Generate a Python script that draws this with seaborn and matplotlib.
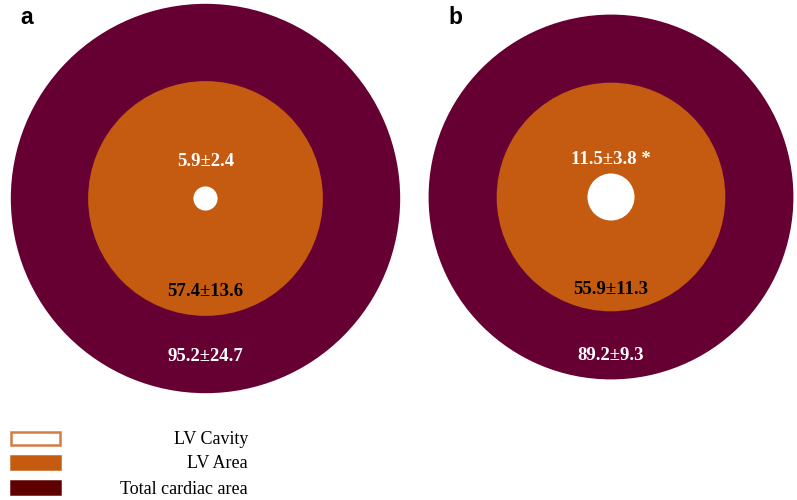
import matplotlib
matplotlib.use('Agg')
import matplotlib.pyplot as plt
from matplotlib.patches import Circle, Rectangle
import seaborn as sns

# values (radius of each ring is drawn proportional to the value)
panels = ['a', 'b']
total_area = [95.2, 89.2]
total_sd = [24.7, 9.3]
lv_area = [57.4, 55.9]
lv_sd = [13.6, 11.3]
lv_cavity = [5.9, 11.5]
cavity_sd = [2.4, 3.8]
cavity_mark = ['', ' *']
legend_labels = ['LV Cavity', 'LV Area', 'Total cardiac area']

sns.set_theme(style='white')
plt.rcParams['font.family'] = ['Liberation Serif', 'DejaVu Serif']

col_total = '#660033'
col_area = '#c55a11'
col_legend_total = '#5e0000'
col_cavity_edge = '#d27d46'

W, H = 797, 500
PX = 2.045  # pixels per value unit
centers = [(205.5, 198.5), (611, 197)]


def p(v):
    return v / PX


fig = plt.figure(figsize=(W / 100, H / 100), dpi=100)
ax = fig.add_axes([0, 0, 1, 1])
ax.set_xlim(0, p(W))
ax.set_ylim(p(H), 0)
ax.axis('off')

for i, lab in enumerate(panels):
    cx, cy = p(centers[i][0]), p(centers[i][1])
    ax.add_patch(Circle((cx, cy), total_area[i], color=col_total, lw=0))
    ax.add_patch(Circle((cx, cy), lv_area[i], color=col_area, lw=0))
    ax.add_patch(Circle((cx, cy), lv_cavity[i], color='white', lw=0))

    ax.text(cx, cy + p(-37), '%.1f±%.1f%s' % (lv_cavity[i], cavity_sd[i], cavity_mark[i]),
            color='white', fontsize=13.5, fontweight='bold', ha='center', va='center')
    ax.text(cx, cy + p(93), '%.1f±%.1f' % (lv_area[i], lv_sd[i]),
            color='black', fontsize=13.5, fontweight='bold', ha='center', va='center')
    ax.text(cx, cy + p(158), '%.1f±%.1f' % (total_area[i], total_sd[i]),
            color='white', fontsize=13.5, fontweight='bold', ha='center', va='center')

    lx = [27, 455][i]
    ax.text(p(lx), p(18), lab, fontsize=16.5, fontweight='bold', ha='center', va='center',
            family=['Liberation Sans', 'DejaVu Sans'], color='black')

# legend drawn by hand: swatch on the left, right aligned label
sw_face = ['white', col_area, col_legend_total]
sw_edge = [col_cavity_edge, col_area, col_legend_total]
sw_y = [432, 456, 481]
for lab, fc, ec, y in zip(legend_labels, sw_face, sw_edge, sw_y):
    ax.add_patch(Rectangle((p(10.5), p(y)), p(49), p(13), facecolor=fc, edgecolor=ec, lw=1.8))
    ax.text(p(248), p(y + 8), lab, fontsize=13, ha='right', va='center', color='black')

fig.savefig('out.png', dpi=100)
